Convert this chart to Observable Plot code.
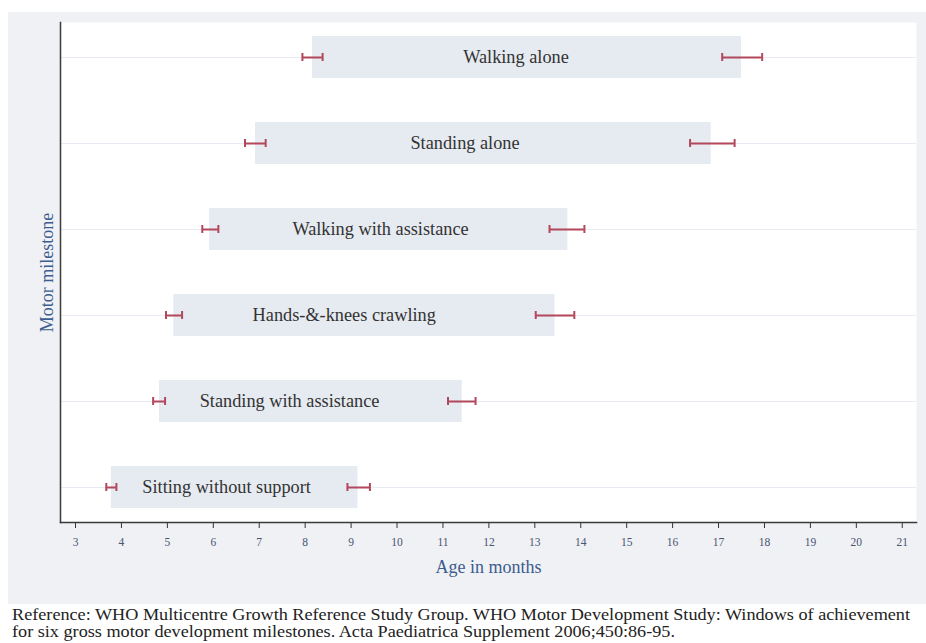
<!DOCTYPE html>
<html><head><meta charset="utf-8">
<script src="https://cdn.jsdelivr.net/npm/d3@7"></script>
<script src="https://cdn.jsdelivr.net/npm/@observablehq/plot@0.6"></script>
<style>
html,body{margin:0;padding:0;background:#fff;}
body{width:926px;height:643px;overflow:hidden;position:relative;font-family:"Liberation Serif","Times New Roman",serif;}
#chart{position:absolute;left:8px;top:12px;}
#caption{position:absolute;left:12px;top:607px;font-size:16px;line-height:16.5px;color:#222;white-space:nowrap;transform-origin:0 0;}
g[aria-label="x-axis tick label"] text{fill:#4a5370;}
</style></head><body>
<div id="chart"></div>
<div id="caption"><div id="cap1"></div><div id="cap2"></div></div>
<script>
// ---- data ----
const milestones = ["Walking alone","Standing alone","Walking with assistance","Hands-&-knees crawling","Standing with assistance","Sitting without support"];
const windowStart = [8.16, 6.92, 5.92, 5.14, 4.83, 3.78];
const windowEnd   = [17.50, 16.84, 13.72, 13.44, 11.42, 9.15];
const lowerCIFrom = [7.94, 6.69, 5.76, 4.97, 4.69, 3.67];
const lowerCITo   = [8.38, 7.14, 6.11, 5.32, 4.95, 3.89];
const upperCIFrom = [17.08, 16.38, 13.32, 13.02, 11.11, 8.92];
const upperCITo   = [17.95, 17.35, 14.08, 13.86, 11.71, 9.41];
const labelX      = [12.59, 11.48, 9.64, 8.85, 7.66, 6.29];
const xTicks = [3,4,5,6,7,8,9,10,11,12,13,14,15,16,17,18,19,20,21];
const xDomain = [2.673, 21.31];
const xTitle = ["Age in months"];
const yTitle = ["Motor milestone"];
const captionLines = [
  "Reference: WHO Multicentre Growth Reference Study Group. WHO Motor Development Study: Windows of achievement",
  "for six gross motor development milestones. Acta Paediatrica Supplement 2006;450:86-95."
];

const data = milestones.map((name, i) => ({
  name, start: windowStart[i], end: windowEnd[i],
  loA: lowerCIFrom[i], loB: lowerCITo[i], hiA: upperCIFrom[i], hiB: upperCITo[i], lx: labelX[i]
}));

const red = "#b3475b";
const chart = Plot.plot({
  width: 918, height: 592,
  marginLeft: 52, marginRight: 10, marginTop: 10, marginBottom: 82,
  style: {background: "#eff1f5", fontFamily: '"Liberation Serif","Times New Roman",serif', fontSize: "11.5px", color: "#333", overflow: "visible"},
  x: {domain: xDomain, ticks: xTicks, tickSize: 6, tickPadding: 9, tickFormat: d => String(d), label: null},
  y: {domain: milestones, paddingInner: 0.51, paddingOuter: 0.15, axis: null},
  marks: [
    Plot.frame({fill: "white", stroke: "none"}),
    Plot.ruleY(data, {y: "name", stroke: "#e8ecf2", strokeWidth: 1}),
    Plot.barX(data, {y: "name", x1: "start", x2: "end", fill: "#e6eaf1"}),
    Plot.text(data, {y: "name", x: "lx", text: "name", fontSize: 18.3, fill: "#333"}),
    Plot.ruleY(data, {y: "name", x1: "loA", x2: "loB", stroke: red, strokeWidth: 2}),
    Plot.ruleY(data, {y: "name", x1: "hiA", x2: "hiB", stroke: red, strokeWidth: 2}),
    Plot.tickX(data, {y: "name", x: "loA", stroke: red, strokeWidth: 2, insetTop: 17, insetBottom: 17}),
    Plot.tickX(data, {y: "name", x: "loB", stroke: red, strokeWidth: 2, insetTop: 17, insetBottom: 17}),
    Plot.tickX(data, {y: "name", x: "hiA", stroke: red, strokeWidth: 2, insetTop: 17, insetBottom: 17}),
    Plot.tickX(data, {y: "name", x: "hiB", stroke: red, strokeWidth: 2, insetTop: 17, insetBottom: 17}),
    Plot.frame({anchor: "left", stroke: "#3a3a3a", strokeWidth: 1.5}),
    Plot.frame({anchor: "bottom", stroke: "#3a3a3a", strokeWidth: 1.5}),
    Plot.text(xTitle, {text: d => d, frameAnchor: "bottom", textAnchor: "middle", dy: 50, fontSize: 18, fill: "#3d5d8e"}),
    Plot.text(yTitle, {text: d => d, frameAnchor: "left", textAnchor: "middle", dx: -13, rotate: -90, fontSize: 18, fill: "#3d5d8e"})
  ]
});
document.getElementById("chart").appendChild(chart);

const cap = document.getElementById("caption");
const c1 = document.getElementById("cap1"), c2 = document.getElementById("cap2");
c1.textContent = captionLines[0];
c2.textContent = captionLines[1];
const w = c1.getBoundingClientRect().width;
cap.style.transform = "scaleX(" + (898 / w) + ")";
</script>
</body></html>
